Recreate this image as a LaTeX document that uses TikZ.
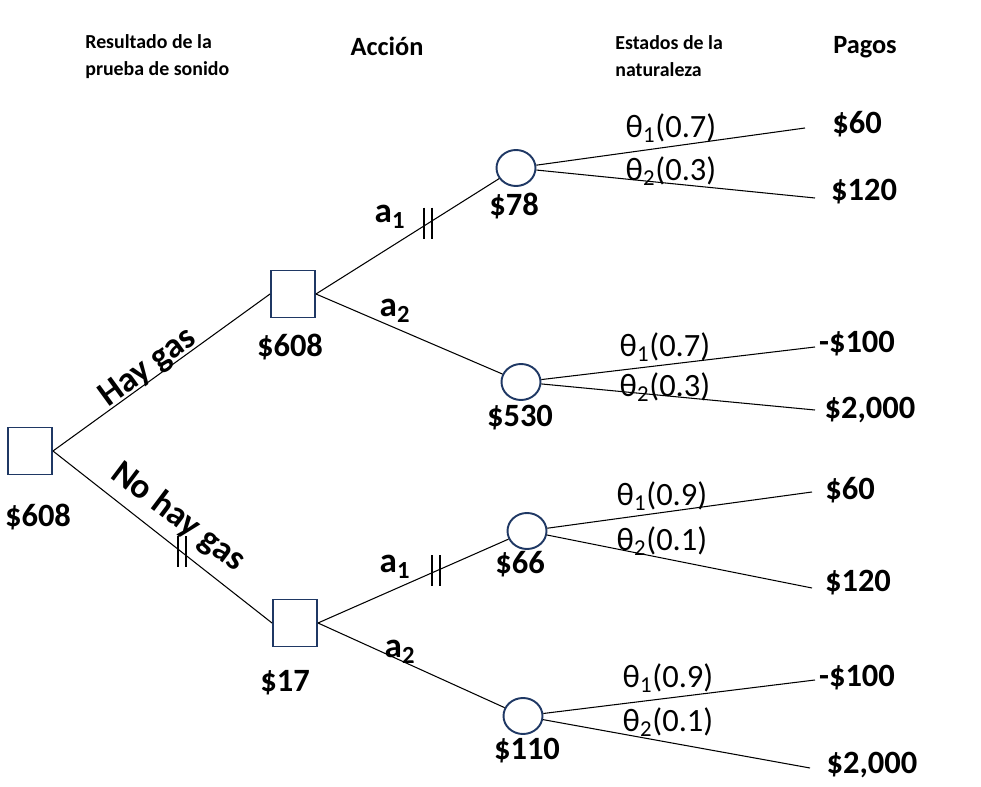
\documentclass[tikz,border=0pt]{standalone}
\usepackage{fontspec}
\setmainfont{Carlito}
\usepackage{tikz}
\usetikzlibrary{shapes.geometric}

\definecolor{nodoazul}{RGB}{31,56,100}

\tikzset{
    decision/.style={draw=nodoazul, line width=1.1pt, rectangle, minimum width=0.88cm, minimum height=0.94cm, inner sep=0pt},
    azar/.style={draw=nodoazul, line width=1.1pt, ellipse, minimum width=0.78cm, minimum height=0.72cm, inner sep=0pt},
    rama/.style={line width=0.6pt},
    valor/.style={font=\fontsize{18.5}{22}\selectfont\bfseries, inner sep=0pt},
    accion/.style={font=\fontsize{20}{24}\selectfont\bfseries, inner sep=0pt},
    prob/.style={font=\fontsize{18.5}{22}\selectfont, inner sep=0pt},
    titulo/.style={font=\fontsize{15}{18}\selectfont\bfseries, inner sep=0pt},
    subtitulo/.style={font=\fontsize{11.3}{15.3}\selectfont\bfseries, align=left, anchor=west, inner sep=0pt},
    corte/.style={line width=1pt}
}

\begin{document}
\begin{tikzpicture}
    \useasboundingbox (0,0) rectangle (19.62,-15.74);

    % Encabezados
    \node[subtitulo] (h1) at (1.7,-1.13) {Resultado de la\\prueba de sonido};
    \node[titulo] (h2) at (7.74,-0.92) {Acción};
    \node[subtitulo] (h3) at (12.3,-1.13) {Estados de la\\naturaleza};
    \node[titulo] (h4) at (17.3,-0.94) {Pagos};

    % Nodos de decision
    \node[decision] (root) at (0.6,-9.02) {};
    \node[decision] (upper) at (5.86,-5.88) {};
    \node[decision] (lower) at (5.9,-12.46) {};

    % Nodos de azar
    \node[azar] (c1) at (10.32,-3.36) {};
    \node[azar] (c2) at (10.42,-7.64) {};
    \node[azar] (c3) at (10.54,-10.62) {};
    \node[azar] (c4) at (10.46,-14.32) {};

    % Valores esperados
    \node[valor] (v0) at (0.76,-10.34) {\$608};
    \node[valor] (v1) at (5.8,-6.94) {\$608};
    \node[valor] (v2) at (5.7,-13.66) {\$17};
    \node[valor] (v11) at (10.28,-4.12) {\$78};
    \node[valor] (v12) at (10.4,-8.36) {\$530};
    \node[valor] (v21) at (10.4,-11.28) {\$66};
    \node[valor] (v22) at (10.54,-15.02) {\$110};

    % Resultado de la prueba
    \draw[rama] (root.east) -- (upper.west);
    \draw[rama] (root.east) -- coordinate[pos=0.59] (m0) (lower.west);
    \node[accion, rotate=36] (hay) at (2.96,-7.36) {Hay gas};
    \node[accion, rotate=-37] (nohay) at (3.56,-10.34) {No hay gas};

    % Acciones
    \draw[rama] (upper.east) -- coordinate[pos=0.61] (m1) (c1);
    \draw[rama] (upper.east) -- (c2);
    \draw[rama] (lower.east) -- coordinate[pos=0.62] (m2) (c3);
    \draw[rama] (lower.east) -- (c4);
    \node[accion] (a11) at (7.8,-4.34) {a\textsubscript{1}};
    \node[accion] (a12) at (7.9,-6.22) {a\textsubscript{2}};
    \node[accion] (a21) at (7.9,-11.34) {a\textsubscript{1}};
    \node[accion] (a22) at (8.0,-13.04) {a\textsubscript{2}};

    % Ramas podadas
    \foreach \m in {m0, m1, m2} {
        \draw[corte] ([xshift=-0.08cm]\m) ++(0,0.32) -- ++(0,-0.62);
        \draw[corte] ([xshift=0.08cm]\m) ++(0,0.32) -- ++(0,-0.62);
    }

    % Estados de la naturaleza
    \coordinate (e11) at (16.1,-2.56);
    \coordinate (e12) at (16.3,-3.96);
    \coordinate (e21) at (16.3,-6.94);
    \coordinate (e22) at (16.3,-8.2);
    \coordinate (e31) at (16.24,-9.84);
    \coordinate (e32) at (16.24,-11.76);
    \coordinate (e41) at (16.3,-13.6);
    \coordinate (e42) at (16.2,-15.36);
    \draw[rama] (c1) -- (e11);
    \draw[rama] (c1) -- (e12);
    \draw[rama] (c2) -- (e21);
    \draw[rama] (c2) -- (e22);
    \draw[rama] (c3) -- (e31);
    \draw[rama] (c3) -- (e32);
    \draw[rama] (c4) -- (e41);
    \draw[rama] (c4) -- (e42);

    \node[prob] (t11) at (13.42,-2.56) {θ\textsubscript{1}(0.7)};
    \node[prob] (t12) at (13.42,-3.42) {θ\textsubscript{2}(0.3)};
    \node[prob] (t21) at (13.3,-6.94) {θ\textsubscript{1}(0.7)};
    \node[prob] (t22) at (13.3,-7.74) {θ\textsubscript{2}(0.3)};
    \node[prob] (t31) at (13.24,-9.92) {θ\textsubscript{1}(0.9)};
    \node[prob] (t32) at (13.24,-10.82) {θ\textsubscript{2}(0.1)};
    \node[prob] (t41) at (13.36,-13.56) {θ\textsubscript{1}(0.9)};
    \node[prob] (t42) at (13.36,-14.44) {θ\textsubscript{2}(0.1)};

    % Pagos
    \node[valor] (p11) at (17.14,-2.48) {\$60};
    \node[valor] (p12) at (17.28,-3.84) {\$120};
    \node[valor] (p21) at (17.14,-6.88) {-\$100};
    \node[valor] (p22) at (17.4,-8.2) {\$2,000};
    \node[valor] (p31) at (17.0,-9.8) {\$60};
    \node[valor] (p32) at (17.16,-11.66) {\$120};
    \node[valor] (p41) at (17.14,-13.56) {-\$100};
    \node[valor] (p42) at (17.44,-15.3) {\$2,000};
\end{tikzpicture}
\end{document}
